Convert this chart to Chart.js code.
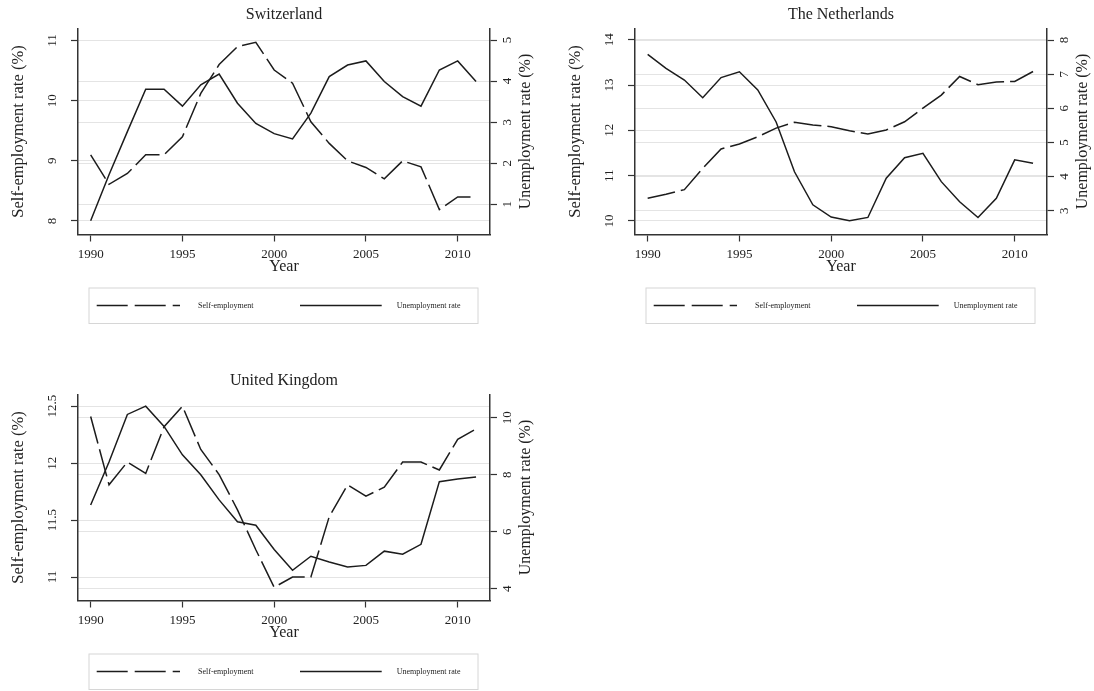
<!DOCTYPE html>
<html>
<head>
<meta charset="utf-8">
<script src="https://cdn.jsdelivr.net/npm/chart.js@4.4.1/dist/chart.umd.min.js"></script>
<style>
  html, body { margin: 0; padding: 0; background: #fff; width: 1094px; height: 691px; overflow: hidden; }
  .panel { position: absolute; width: 540px; height: 340px; }
</style>
</head>
<body>
<div class="panel" style="left:0; top:0"><canvas id="ch" width="540" height="340"></canvas></div>
<div class="panel" style="left:557px; top:0"><canvas id="nl" width="540" height="340"></canvas></div>
<div class="panel" style="left:0; top:366px"><canvas id="uk" width="540" height="340"></canvas></div>
<script>
// ---- data ----
const years = [1990, 1991, 1992, 1993, 1994, 1995, 1996, 1997, 1998, 1999, 2000,
               2001, 2002, 2003, 2004, 2005, 2006, 2007, 2008, 2009, 2010, 2011];
const yearTicks = [1990, 1995, 2000, 2005, 2010];

const chSelfEmployment = [9.10, 8.61, 8.79, 9.10, 9.10, 9.40, 10.12, 10.60, 10.90, 10.97, 10.51,
                          10.29, 9.65, 9.29, 9.00, 8.89, 8.70, 9.00, 8.90, 8.19, 8.40, 8.40];
const chUnemployment   = [0.60, 1.72, 2.77, 3.80, 3.80, 3.39, 3.91, 4.17, 3.46, 2.97, 2.72,
                          2.59, 3.22, 4.11, 4.39, 4.49, 3.99, 3.62, 3.39, 4.27, 4.49, 3.99];

const nlSelfEmployment = [10.50, 10.59, 10.69, 11.16, 11.59, 11.70, 11.86, 12.05, 12.18, 12.12, 12.08,
                          11.99, 11.92, 12.01, 12.19, 12.49, 12.78, 13.19, 13.01, 13.07, 13.08, 13.30];
const nlUnemployment   = [7.58, 7.17, 6.83, 6.31, 6.90, 7.07, 6.54, 5.60, 4.14, 3.17, 2.81,
                          2.70, 2.80, 3.95, 4.55, 4.68, 3.85, 3.26, 2.80, 3.36, 4.49, 4.39];

const ukSelfEmployment = [12.41, 11.81, 12.01, 11.91, 12.32, 12.50, 12.12, 11.90, 11.59, 11.24, 10.91,
                          11.00, 11.00, 11.53, 11.81, 11.71, 11.79, 12.01, 12.01, 11.94, 12.21, 12.30];
const ukUnemployment   = [6.94, 8.45, 10.12, 10.41, 9.70, 8.70, 8.00, 7.12, 6.35, 6.23, 5.38,
                          4.65, 5.14, 4.94, 4.76, 4.82, 5.32, 5.21, 5.56, 7.76, 7.85, 7.92];

const chLeftTicks  = [8, 9, 10, 11];
const chRightTicks = [1, 2, 3, 4, 5];
const nlLeftTicks  = [10, 11, 12, 13, 14];
const nlRightTicks = [3, 4, 5, 6, 7, 8];
const ukLeftTicks  = [11, 11.5, 12, 12.5];
const ukRightTicks = [4, 6, 8, 10];

// ---- styling ----
const SERIF = '"Liberation Serif", "Times New Roman", serif';
const INK = '#222';
const AXIS = '#333';
const GRID = '#e4e4e4';

// Panel title, rotated value-axis labels, right axis title and the boxed key.
const panelDecor = {
  id: 'panelDecor',
  afterDraw(chart, args, opts) {
    const { ctx, chartArea: a, scales } = chart;
    ctx.save();
    ctx.fillStyle = INK;
    ctx.textAlign = 'center';
    ctx.textBaseline = 'middle';

    ctx.font = '16px ' + SERIF;
    ctx.fillText(opts.title, (a.left + a.right) / 2, a.top - 13.5);

    ctx.font = '13px ' + SERIF;
    [['yL', a.left - 25], ['yR', a.right + 18]].forEach(([id, x]) => {
      const s = scales[id];
      s.ticks.forEach(t => {
        ctx.save();
        ctx.translate(x, s.getPixelForValue(t.value));
        ctx.rotate(-Math.PI / 2);
        ctx.fillText(String(t.value), 0, 0);
        ctx.restore();
      });
    });

    ctx.font = '16px ' + SERIF;
    ctx.save();
    ctx.translate(a.right + 36, (a.top + a.bottom) / 2);
    ctx.rotate(-Math.PI / 2);
    ctx.fillText(opts.rightTitle, 0, 0);
    ctx.restore();

    // key box
    const bx = a.left + 11, bw = (a.right - 12) - bx;
    const by = a.bottom + 53.5, bh = 35.5;
    ctx.strokeStyle = '#d6d6d6';
    ctx.lineWidth = 1;
    ctx.strokeRect(bx, by, bw, bh);
    const ly = a.bottom + 71;
    const samples = [[18.7, 83.3, 120], [222, 81.7, 318.7]];
    ctx.font = '8px ' + SERIF;
    ctx.textAlign = 'left';
    chart.data.datasets.forEach((ds, i) => {
      const [sx, sw, tx] = samples[i];
      ctx.save();
      ctx.strokeStyle = ds.borderColor;
      ctx.lineWidth = ds.borderWidth;
      ctx.setLineDash(ds.legendDash || []);
      ctx.beginPath();
      ctx.moveTo(a.left + sx, ly);
      ctx.lineTo(a.left + sx + sw, ly);
      ctx.stroke();
      ctx.restore();
      ctx.fillText(ds.keyText, a.left + tx, ly);
    });
    ctx.restore();
  }
};

function pts(values) {
  return years.map((y, i) => ({ x: y, y: values[i] }));
}

function valueAxis(position, min, max, tickValues, width, title) {
  const axis = {
    type: 'linear',
    position: position,
    min: min,
    max: max,
    bounds: 'data',
    afterBuildTicks: s => { s.ticks = tickValues.map(v => ({ value: v })); },
    afterFit: s => { s.width = width; },
    ticks: { display: false },
    grid: { color: GRID, lineWidth: 1, drawTicks: true, tickLength: 7, tickColor: AXIS, tickWidth: 1.2 },
    border: { display: true, color: AXIS, width: 1.5 }
  };
  if (title) {
    axis.title = { display: true, text: title, color: INK,
                   font: { family: SERIF, size: 16.5 }, padding: { top: 8.4, bottom: 0 } };
  }
  return axis;
}

function makePanel(id, name, selfEmp, unemp, left, right) {
  new Chart(document.getElementById(id), {
    type: 'line',
    data: {
      datasets: [
        { label: 'Self-employment', keyText: 'Self-employment', data: pts(selfEmp), yAxisID: 'yL',
          borderColor: '#1c1c1c', borderWidth: 1.5, borderDash: [28, 6], legendDash: [31, 7],
          pointRadius: 0, tension: 0, fill: false },
        { label: 'Unemployment rate', keyText: 'Unemployment rate', data: pts(unemp), yAxisID: 'yR',
          borderColor: '#1c1c1c', borderWidth: 1.5,
          pointRadius: 0, tension: 0, fill: false }
      ]
    },
    options: {
      responsive: false,
      devicePixelRatio: 1,
      animation: false,
      layout: { padding: { top: 28.5, left: 0, right: 0, bottom: 0 } },
      plugins: {
        legend: { display: false },
        tooltip: { enabled: false },
        panelDecor: { title: name, rightTitle: 'Unemployment rate (%)' }
      },
      scales: {
        x: {
          type: 'linear',
          min: 1989.31,
          max: 2011.76,
          bounds: 'data',
          afterBuildTicks: s => { s.ticks = yearTicks.map(v => ({ value: v })); },
          afterFit: s => { s.height = 105.5; },
          ticks: { color: INK, font: { family: SERIF, size: 13 }, padding: 5,
                   maxRotation: 0, autoSkip: false, callback: v => String(v) },
          grid: { drawOnChartArea: false, drawTicks: true, tickLength: 7, tickColor: AXIS, tickWidth: 1.2 },
          border: { display: true, color: AXIS, width: 1.5 },
          title: { display: true, text: 'Year', color: INK, font: { family: SERIF, size: 16 },
                   padding: { top: 0, bottom: 63.7 } }
        },
        yL: valueAxis('left', left.min, left.max, left.ticks, 78, 'Self-employment rate (%)'),
        yR: valueAxis('right', right.min, right.max, right.ticks, 50, null)
      }
    },
    plugins: [panelDecor]
  });
}

makePanel('ch', 'Switzerland', chSelfEmployment, chUnemployment,
  { min: 7.775, max: 11.2, ticks: chLeftTicks }, { min: 0.265, max: 5.28, ticks: chRightTicks });
makePanel('nl', 'The Netherlands', nlSelfEmployment, nlUnemployment,
  { min: 9.70, max: 14.25, ticks: nlLeftTicks }, { min: 2.30, max: 8.34, ticks: nlRightTicks });
makePanel('uk', 'United Kingdom', ukSelfEmployment, ukUnemployment,
  { min: 10.794, max: 12.603, ticks: ukLeftTicks }, { min: 3.587, max: 10.82, ticks: ukRightTicks });
</script>
</body>
</html>
